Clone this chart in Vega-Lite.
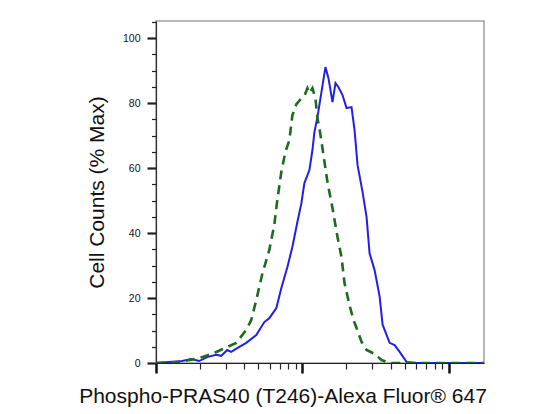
{
  "$schema": "https://vega.github.io/schema/vega-lite/v6.json",
  "autosize": {"type": "none"},
  "width": 328,
  "height": 342,
  "padding": {"left": 156, "top": 21, "right": 65, "bottom": 51},
  "background": "white",
  "config": {
    "view": {"stroke": "#a0a0a0", "strokeWidth": 1.5},
    "font": "Liberation Sans"
  },
  "datasets": {
    "blue": [
      {"x": 100, "y": 0}, {"x": 122.8, "y": 0.3}, {"x": 150.7, "y": 0.6}, {"x": 173.6, "y": 1.2},
      {"x": 197, "y": 0.6}, {"x": 223.6, "y": 1.8}, {"x": 257.6, "y": 2.5}, {"x": 278.8, "y": 2.2},
      {"x": 306.4, "y": 4.0}, {"x": 326.4, "y": 3.4}, {"x": 358.8, "y": 4.6}, {"x": 413.5, "y": 6.2},
      {"x": 484.1, "y": 8.6}, {"x": 549.3, "y": 12.6}, {"x": 594.3, "y": 13.8}, {"x": 663.7, "y": 16.9},
      {"x": 718.1, "y": 23.1}, {"x": 789.3, "y": 29.5}, {"x": 854.1, "y": 35.7}, {"x": 924.3, "y": 43.4},
      {"x": 984.4, "y": 49.2}, {"x": 1032, "y": 55.4}, {"x": 1116.7, "y": 59.4}, {"x": 1170.8, "y": 65.5},
      {"x": 1208.3, "y": 71.1}, {"x": 1266.8, "y": 75.7}, {"x": 1349.3, "y": 83.4}, {"x": 1437.2, "y": 91.1},
      {"x": 1507, "y": 87.7}, {"x": 1605.2, "y": 80.3}, {"x": 1682.9, "y": 86.2}, {"x": 1764.5, "y": 84.9},
      {"x": 1879.4, "y": 82.5}, {"x": 2001.9, "y": 78.5}, {"x": 2165.9, "y": 78.8}, {"x": 2271.2, "y": 71.7},
      {"x": 2381.5, "y": 60.9}, {"x": 2576.7, "y": 52.6}, {"x": 2744.3, "y": 44.9}, {"x": 2876.9, "y": 33.8},
      {"x": 3112.7, "y": 28.6}, {"x": 3368.1, "y": 20.5}, {"x": 3531.3, "y": 11.8}, {"x": 3943.7, "y": 6.2},
      {"x": 4267, "y": 5.5}, {"x": 4617.2, "y": 3.4}, {"x": 5155.8, "y": 0.3}, {"x": 6036.6, "y": 0},
      {"x": 10157, "y": 0}, {"x": 17372, "y": 0}
    ],
    "green": [
      {"x": 100, "y": 0}, {"x": 143.7, "y": 0.3}, {"x": 197, "y": 1.5}, {"x": 249.6, "y": 3.1},
      {"x": 306.4, "y": 4.9}, {"x": 353.2, "y": 6.2}, {"x": 413.5, "y": 10.2}, {"x": 447.3, "y": 13.2},
      {"x": 484.1, "y": 19.4}, {"x": 532.2, "y": 27.4}, {"x": 594.3, "y": 34.8}, {"x": 643, "y": 42.6},
      {"x": 674.2, "y": 50.2}, {"x": 718.1, "y": 58.8}, {"x": 764.8, "y": 64.9}, {"x": 814.7, "y": 68.6},
      {"x": 854.1, "y": 76.3}, {"x": 909.8, "y": 79.7}, {"x": 984.4, "y": 81.5}, {"x": 1032, "y": 82.2},
      {"x": 1081.9, "y": 84.6}, {"x": 1116.7, "y": 83.1}, {"x": 1170.8, "y": 84.6}, {"x": 1227.5, "y": 81.5},
      {"x": 1266.8, "y": 75.4}, {"x": 1307.4, "y": 72.3}, {"x": 1370.8, "y": 66.2}, {"x": 1483.3, "y": 55.7},
      {"x": 1605.2, "y": 47.7}, {"x": 1736.8, "y": 38.8}, {"x": 1849.9, "y": 32.6}, {"x": 1939.7, "y": 24.6},
      {"x": 2098.6, "y": 17.8}, {"x": 2235.6, "y": 13.2}, {"x": 2344.4, "y": 10.8}, {"x": 2536.2, "y": 6.5},
      {"x": 2744.3, "y": 4.0}, {"x": 3112.7, "y": 2.8}, {"x": 3476, "y": 0.9}, {"x": 3943.7, "y": 0},
      {"x": 17372, "y": 0}
    ]
  },
  "resolve": {"axis": {"x": "independent", "y": "independent"}},
  "layer": [
    {
      "data": {"name": "blue"},
      "mark": {"type": "line", "color": "#2020e6", "strokeWidth": 2, "clip": true},
      "encoding": {
        "x": {
          "field": "x", "type": "quantitative",
          "scale": {"type": "log", "domain": [100, 17400], "nice": false},
          "axis": {
            "orient": "bottom", "values": [100, 1000, 10000], "labels": false, "grid": false,
            "tickSize": 10, "tickWidth": 2.5, "tickColor": "#111",
            "domainColor": "#222", "domainWidth": 1.2,
            "title": "Phospho-PRAS40 (T246)-Alexa Fluor® 647",
            "titleFont": "Liberation Sans", "titleFontSize": 21, "titleFontWeight": "normal",
            "titleColor": "#111", "titleX": 126.5, "titleY": 39, "titleBaseline": "alphabetic",
            "titleAlign": "center"
          }
        },
        "y": {
          "field": "y", "type": "quantitative",
          "scale": {"domain": [0, 105.3], "nice": false, "zero": false},
          "axis": {
            "orient": "left", "values": [0, 20, 40, 60, 80, 100], "grid": false,
            "tickSize": 9, "tickWidth": 2.2, "tickColor": "#222",
            "labelFont": "Liberation Sans", "labelFontSize": 10.5, "labelPadding": 7, "labelColor": "#111",
            "domainColor": "#333", "domainWidth": 1.2,
            "title": "Cell Counts (% Max)",
            "titleFont": "Liberation Sans", "titleFontSize": 21, "titleFontWeight": "normal",
            "titleColor": "#111", "titleX": -53, "titleBaseline": "alphabetic", "titleAngle": -90,
            "titleAlign": "center"
          }
        }
      }
    },
    {
      "data": {"name": "green"},
      "mark": {"type": "line", "color": "#1d6b1d", "strokeWidth": 2.6, "strokeDash": [9, 6], "clip": true},
      "encoding": {
        "x": {
          "field": "x", "type": "quantitative",
          "scale": {"type": "log", "domain": [100, 17400], "nice": false},
          "axis": {
            "orient": "bottom",
            "values": [200, 300, 400, 500, 600, 700, 800, 900, 2000, 3000, 4000, 5000, 6000, 7000, 8000, 9000],
            "labels": false, "title": null, "domain": false, "grid": false,
            "tickSize": 6, "tickWidth": 1.2, "tickColor": "#222"
          }
        },
        "y": {
          "field": "y", "type": "quantitative",
          "scale": {"domain": [0, 105.3], "nice": false, "zero": false},
          "axis": {
            "orient": "left",
            "values": [5, 10, 15, 25, 30, 35, 45, 50, 55, 65, 70, 75, 85, 90, 95, 105],
            "labels": false, "title": null, "domain": false, "grid": false,
            "tickSize": 4.5, "tickWidth": 1.2, "tickColor": "#222"
          }
        }
      }
    }
  ]
}
